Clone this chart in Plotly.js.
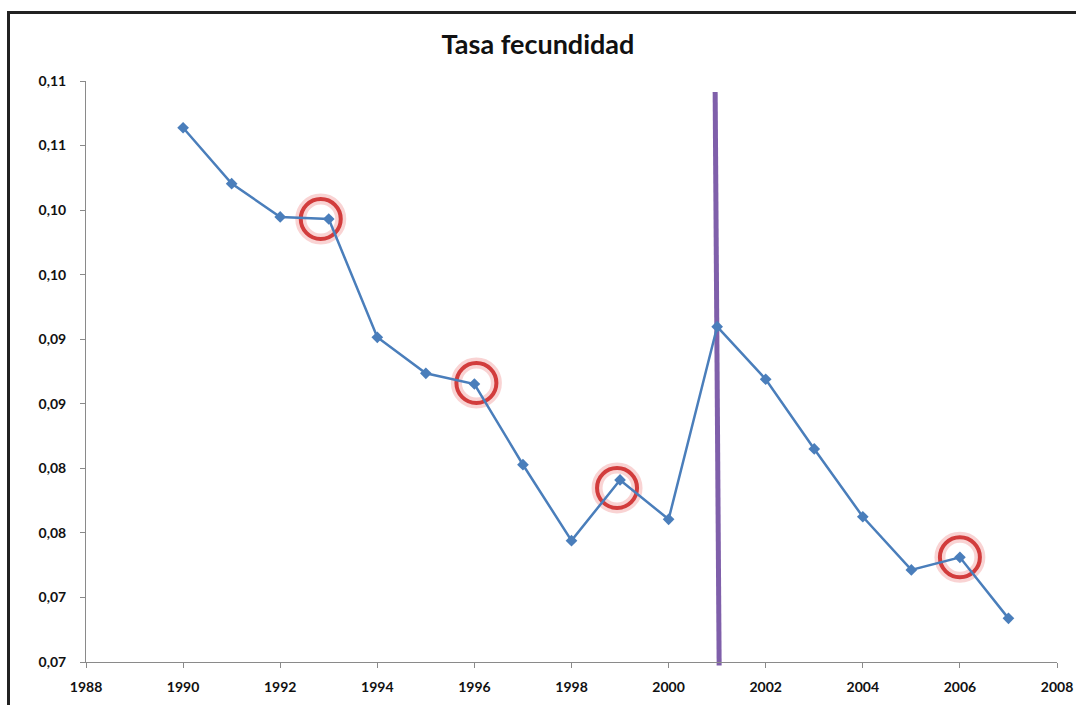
<!DOCTYPE html>
<html>
<head>
<meta charset="utf-8">
<script src="https://cdn.plot.ly/plotly-3.0.1.min.js"></script>
<style>
  html, body { margin: 0; padding: 0; background: #fff; overflow: hidden; }
  #wrap { position: relative; width: 1076px; height: 705px; overflow: hidden; }
  #chart { position: absolute; left: 0; top: 0; width: 1076px; height: 705px; }
  #frameTop { position: absolute; left: 7px; top: 11px; width: 1069px; height: 0;
              border-top: 3px solid #222; pointer-events: none; }
  #frameLeft { position: absolute; left: 7px; top: 11px; width: 0; height: 694px;
               border-left: 3px solid #222; pointer-events: none; }
</style>
</head>
<body>
<div id="wrap">
  <div id="chart"></div>
  <div id="frameTop"></div>
  <div id="frameLeft"></div>
</div>
<script>
// ---- data ----
const years = [1990, 1991, 1992, 1993, 1994, 1995, 1996, 1997, 1998, 1999,
               2000, 2001, 2002, 2003, 2004, 2005, 2006, 2007];
const tasa = [0.11138, 0.10705, 0.10447, 0.10431, 0.09515, 0.09236, 0.09153, 0.08528, 0.07940, 0.08410,
              0.08105, 0.09597, 0.09190, 0.08650, 0.08125, 0.07713, 0.07811, 0.07338];
const yTickVals = [0.07, 0.075, 0.08, 0.085, 0.09, 0.095, 0.10, 0.105, 0.11, 0.115];
const yTickText = ["0,07", "0,07", "0,08", "0,08", "0,09", "0,09", "0,10", "0,10", "0,11", "0,11"];
const xTickVals = [1988, 1990, 1992, 1994, 1996, 1998, 2000, 2002, 2004, 2006, 2008];
const highlightYears = [1993, 1996, 1999, 2006];
const eventYear = 2001;
const titleText = "Tasa fecundidad";

// ---- styling (pixel offsets of the hand-drawn rings relative to their points) ----
const ringOffsets = { 1993: [-8, 0], 1996: [2, 1], 1999: [-3, -8], 2006: [0, 0] };
const ringR = 20;

const shapes = [];
// vertical event line
shapes.push({
  type: 'line', layer: 'below',
  xref: 'x', xsizemode: 'pixel', xanchor: eventYear, x0: -2, x1: 2,
  yref: 'paper', y0: 0.981, y1: -0.006,
  line: { color: '#7f5faa', width: 5 }
});
// highlight rings
highlightYears.forEach(function (yr) {
  const v = tasa[years.indexOf(yr)];
  const off = ringOffsets[yr] || [0, 0];
  const base = {
    type: 'circle', layer: 'below',
    xref: 'x', yref: 'y', xsizemode: 'pixel', ysizemode: 'pixel',
    xanchor: yr, yanchor: v,
    x0: off[0] - ringR, x1: off[0] + ringR,
    y0: off[1] - ringR, y1: off[1] + ringR
  };
  shapes.push(Object.assign({}, base, { line: { color: 'rgba(235,110,110,0.3)', width: 11 } }));
  shapes.push(Object.assign({}, base, { line: { color: '#d23c3c', width: 4 } }));
});

const trace = {
  x: years, y: tasa, type: 'scatter', mode: 'lines+markers',
  line: { color: '#4a7ebb', width: 2.5 },
  marker: { symbol: 'diamond', size: 9, color: '#4a7ebb' },
  showlegend: false, cliponaxis: false
};

const font = "Lato, 'Open Sans', 'DejaVu Sans', sans-serif";
const layout = {
  width: 1076, height: 705,
  margin: { l: 86, r: 19, t: 81, b: 43, pad: 0 },
  paper_bgcolor: 'rgba(0,0,0,0)', plot_bgcolor: 'rgba(0,0,0,0)',
  title: { text: '<b>' + titleText + '</b>', x: 0.5, xanchor: 'center', y: 0.937, yanchor: 'middle',
           font: { family: font, size: 27, color: '#111' } },
  xaxis: {
    range: [1988, 2008], tickvals: xTickVals, ticktext: xTickVals.map(String),
    showgrid: false, zeroline: false, showline: true, linecolor: '#8a8a8a', linewidth: 1,
    ticks: 'outside', ticklen: 5, tickcolor: '#8a8a8a', ticklabelstandoff: 7,
    tickfont: { family: font, size: 14, color: '#111', weight: 'bold' }
  },
  yaxis: {
    range: [0.07, 0.115], tickvals: yTickVals, ticktext: yTickText,
    showgrid: false, zeroline: false, showline: true, linecolor: '#8a8a8a', linewidth: 1,
    ticks: 'outside', ticklen: 5, tickcolor: '#8a8a8a', ticklabelstandoff: 11,
    tickfont: { family: font, size: 14, color: '#111', weight: 'bold' }
  },
  shapes: shapes
};

Plotly.newPlot('chart', [trace], layout, { displayModeBar: false, staticPlot: true });
</script>
</body>
</html>
